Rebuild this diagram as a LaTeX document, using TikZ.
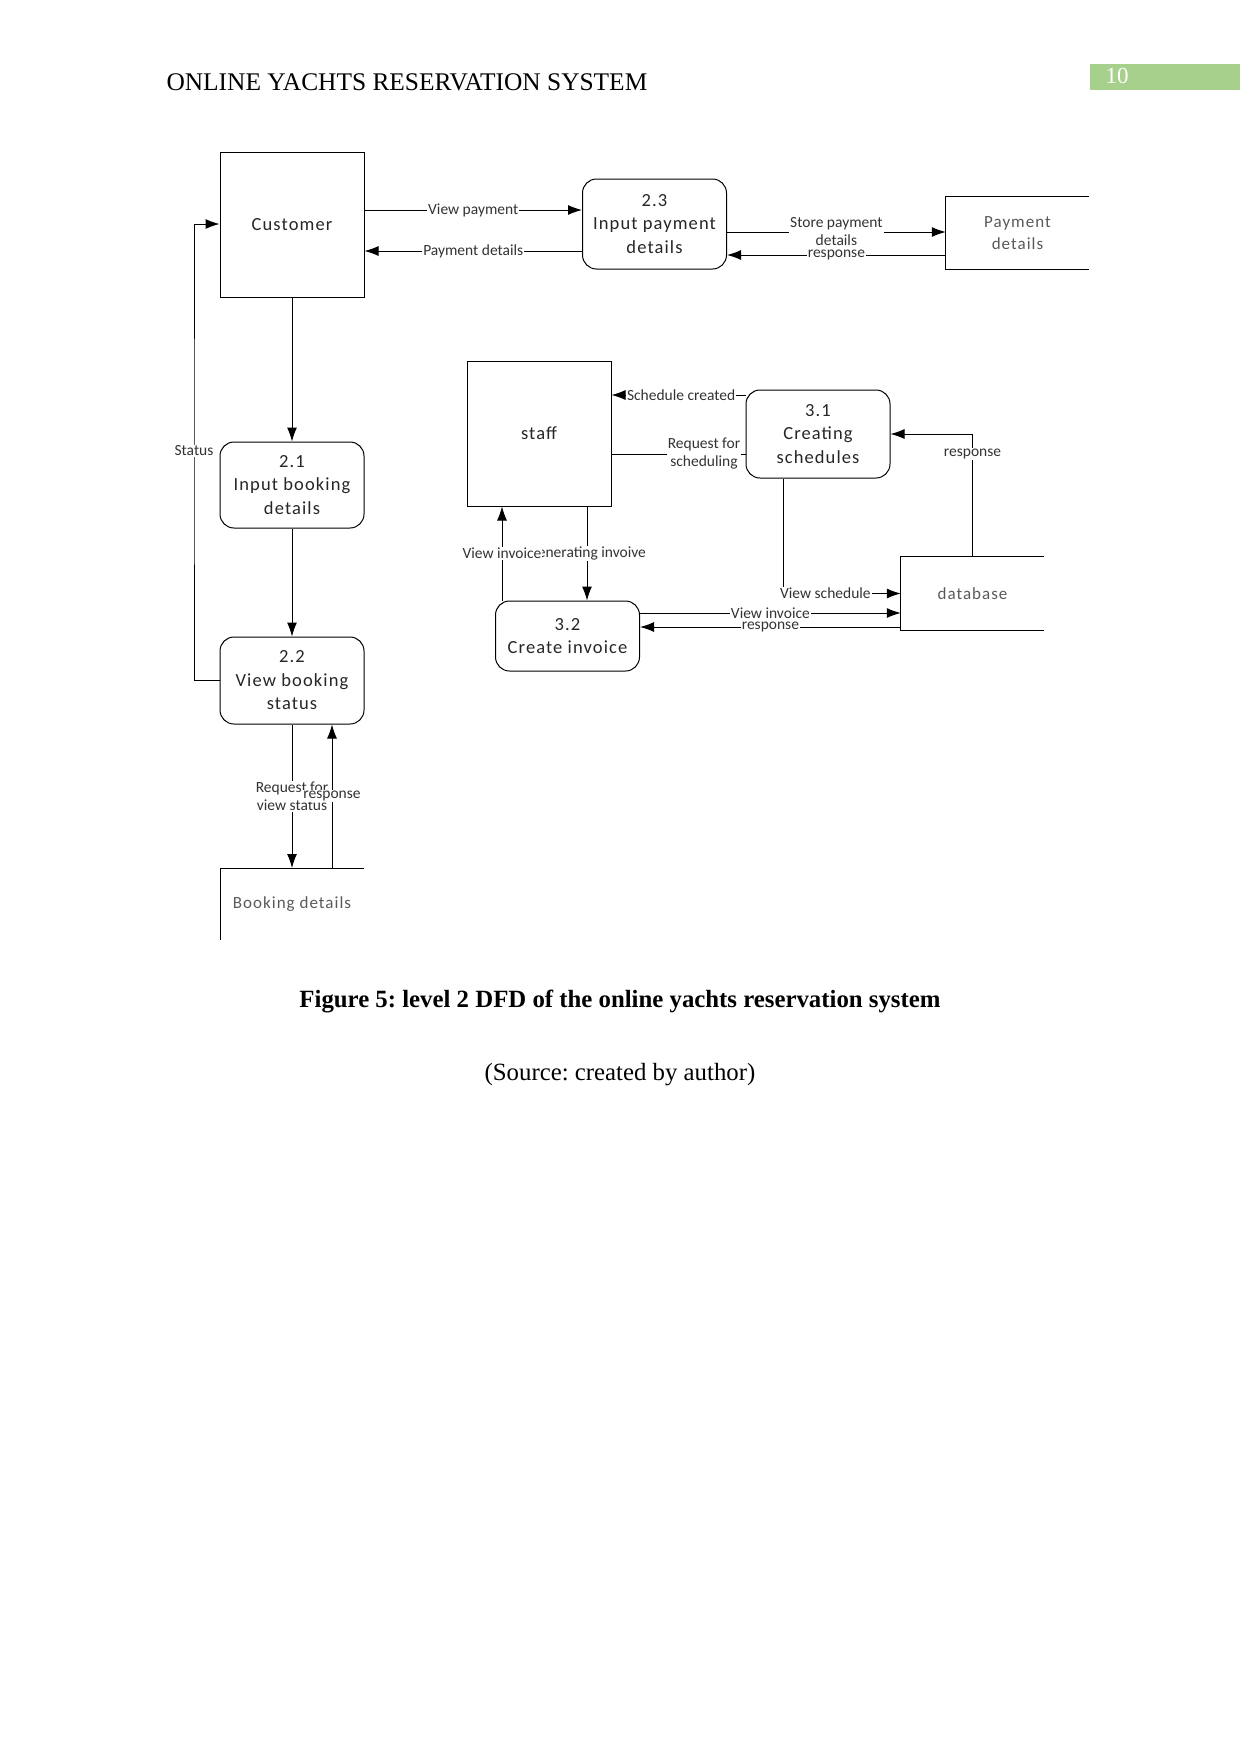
\documentclass[tikz,border=0pt]{standalone}
\usepackage{fontspec}
\setmainfont{Liberation Serif}
\newfontfamily\carl{Carlito}
\newfontfamily\carlsp[LetterSpace=6]{Carlito}
\usetikzlibrary{arrows.meta,calc}
\definecolor{hdrgreen}{HTML}{A8D08D}
\frenchspacing
\begin{document}
\begin{tikzpicture}[x=1pt,y=-1pt,
  ent/.style={draw, line width=1pt, minimum width=144pt, minimum height=145pt, font=\carlsp\fontsize{18.5}{23}\selectfont, text=black!85},
  proc/.style={draw, rounded corners=14pt, line width=1pt, minimum width=144pt, align=center, font=\carlsp\fontsize{18.5}{23.5}\selectfont, text=black!85},
  store/.style={minimum width=143pt, minimum height=72pt, align=center, font=\carlsp\fontsize{17}{22}\selectfont, text=black!65},
  flow/.style={line width=1pt, -{Latex[length=14pt,width=10pt]}},
  lbl/.style={fill=white, inner sep=1pt, font=\carl\fontsize{15.5}{18}\selectfont, text=black!80, align=center}]
\useasboundingbox (0,0) rectangle (1241,1754);
% header
\node (hdr) [anchor=west, font=\fontsize{25.4}{29}\selectfont] at (163,82) {ONLINE YACHTS RESERVATION SYSTEM};
\node (pg) [fill=hdrgreen, minimum width=150pt, minimum height=26pt, inner sep=0pt] at (1165,76.5) {};
\node (pgnum) [text=white, font=\fontsize{23}{26}\selectfont] at (1117,76) {10};
% nodes
\node (cust) [ent] at (292,224.5) {Customer};
\node (p23) [proc, minimum height=90pt] at (654.5,224) {2.3\\Input payment\\details};
\node (pst) [store] at (1017.5,233) {Payment\\details};
\draw[line width=1pt] (pst.north east) -- (pst.north west) -- (pst.south west) -- (pst.south east);
\node (p21) [proc, minimum height=86pt] at (292,485) {2.1\\Input booking\\details};
\node (p22) [proc, minimum height=87pt] at (292,680.5) {2.2\\View booking\\status};
\node (bst) [store, anchor=north] at (292,868) {Booking details};
\draw[line width=1pt] (bst.north east) -- (bst.north west) -- ($(bst.north west)+(0,72)$);
\node (staff) [ent] at (539,433.5) {staff};
\node (p31) [proc, minimum height=88pt] at (818,434) {3.1\\Creating\\schedules};
\node (db) [store, minimum height=73pt] at (972.5,593.5) {database};
\draw[line width=1pt] (db.north east) -- (db.north west) -- (db.south west) -- (db.south east);
\node (p32) [proc, minimum height=70pt] at (567.5,636) {3.2\\Create invoice};
% flows
\draw[flow] (cust.east |- 0,210) -- node[lbl] {View payment} (p23.west |- 0,210);
\draw[flow] (p23.west |- 0,251) -- node[lbl] {Payment details} (cust.east |- 0,251);
\draw[flow] (p23.east |- 0,232) -- node[lbl] {Store payment\\details} (pst.west |- 0,232);
\draw[flow] (pst.west |- 0,255) -- node[lbl] {response} (p23.east |- 0,255);
\draw[flow] (cust.south) -- (p21.north);
\draw[flow] (p21.south) -- (p22.north);
\draw[flow] (p22.west) -| (194,451) node[lbl] {Status} |- (cust.west |- 0,224);
\draw[flow] (p22.south) -- node[lbl] {Request for\\view status} (bst.north);
\draw[flow] (bst.north -| 332,0) -- node[lbl] {response} (p22.south -| 332,0);
\draw[flow] (p31.west |- 0,395) -- node[lbl, pos=0.48] {Schedule created} (staff.east |- 0,395);
\draw[line width=1pt] (staff.east |- 0,454) -- node[lbl, pos=0.69] {Request for\\scheduling} (p31.west |- 0,454);
\draw[flow] (db.north) |- node[lbl, pos=0.42] {response} (p31.east);
\draw[flow] (p31.south -| 783,0) |- node[lbl, pos=0.68] {View schedule} (db.west);
\draw[flow] (p32.east |- 0,613) -- node[lbl] {View invoice} (db.west |- 0,613);
\draw[flow] (db.west |- 0,627) -- node[lbl] {response} (p32.east |- 0,627);
\draw[flow] (staff.south -| 587,0) -- node[lbl] {Generating invoive} (p32.north -| 587,0);
\draw[flow] (p32.north -| 502,0) -- node[lbl] {View invoice} (staff.south -| 502,0);
% caption
\node (cap) [font=\bfseries\fontsize{24.8}{29}\selectfont] at (620,1001) {Figure 5: level 2 DFD of the online yachts reservation system};
\node (src) [font=\fontsize{24.8}{29}\selectfont] at (620,1075) {(Source: created by author)};
\end{tikzpicture}
\end{document}
